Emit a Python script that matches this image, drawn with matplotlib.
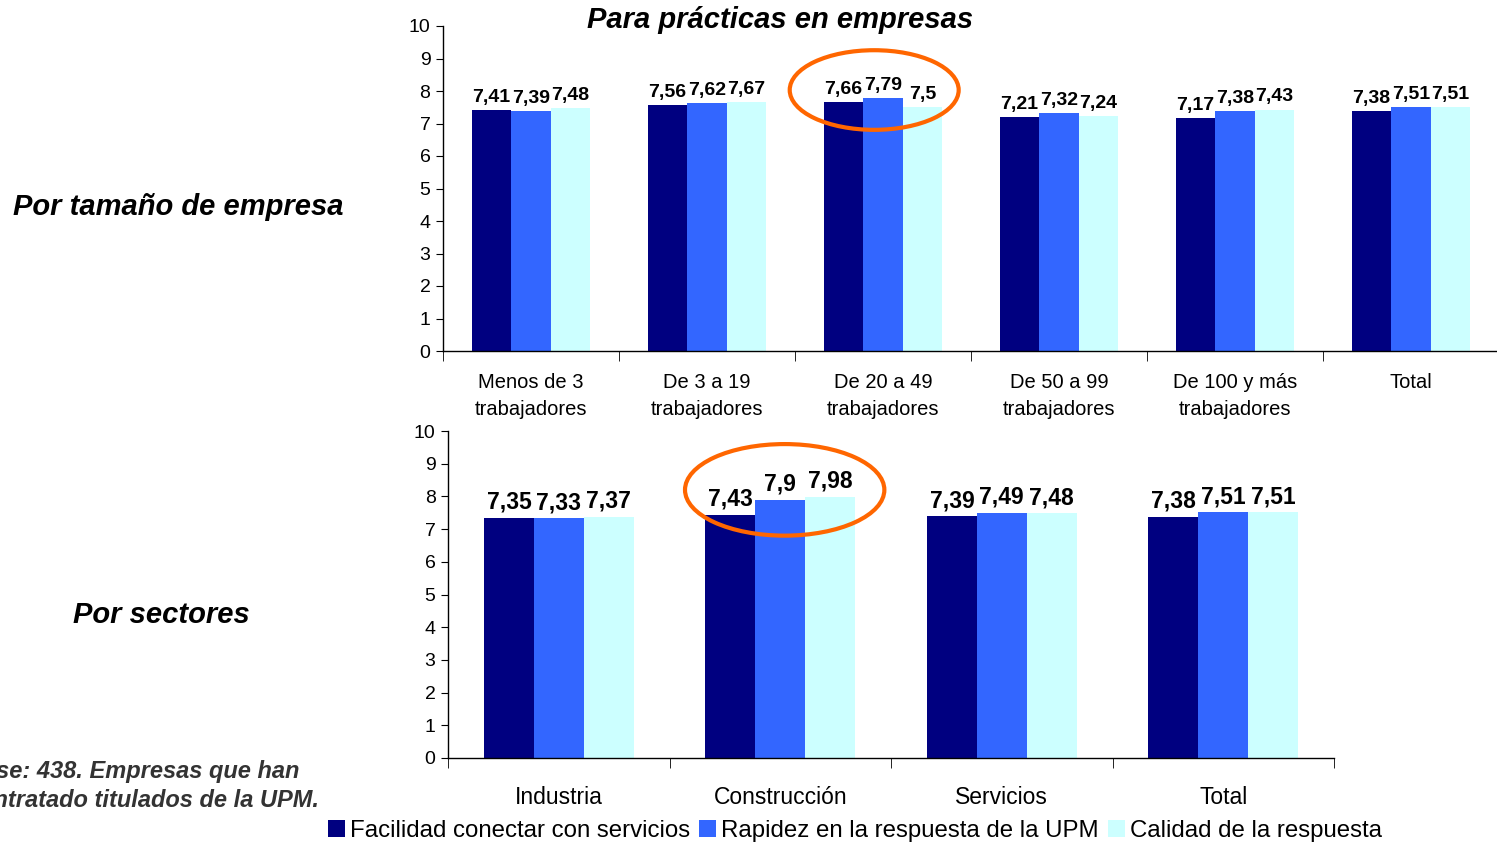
import numpy as np
import matplotlib
matplotlib.use("Agg")
import matplotlib.pyplot as plt
from matplotlib.patches import Ellipse, Patch

plt.rcParams['font.family'] = ['Liberation Sans', 'DejaVu Sans']

# datos
series = ["Facilidad conectar con servicios", "Rapidez en la respuesta de la UPM", "Calidad de la respuesta"]
colores = ["#000080", "#3366FF", "#CCFFFF"]

tam_cats = ["Menos de 3\ntrabajadores", "De 3 a 19\ntrabajadores", "De 20 a 49\ntrabajadores",
            "De 50 a 99\ntrabajadores", "De 100 y más\ntrabajadores", "Total"]
tam_facilidad = [7.41, 7.56, 7.66, 7.21, 7.17, 7.38]
tam_rapidez = [7.39, 7.62, 7.79, 7.32, 7.38, 7.51]
tam_calidad = [7.48, 7.67, 7.5, 7.24, 7.43, 7.51]

sec_cats = ["Industria", "Construcción", "Servicios", "Total"]
sec_facilidad = [7.35, 7.43, 7.39, 7.38]
sec_rapidez = [7.33, 7.9, 7.49, 7.51]
sec_calidad = [7.37, 7.98, 7.48, 7.51]


def fmt(v):
    return f"{v:g}".replace(".", ",")


def barras(ax, cats, valores, pad, fs_x, fs_val):
    n = len(cats)
    x = np.arange(n)
    w = 0.225
    for i, vals in enumerate(valores):
        pos = x + (i - 1) * w
        ax.bar(pos, vals, width=w, color=colores[i], edgecolor="none")
        for p, v in zip(pos, vals):
            ax.annotate(fmt(v), (p, v), xytext=(0, 3), textcoords="offset points",
                        ha="center", va="bottom", fontsize=fs_val, fontweight="bold")
    ax.set_xlim(-0.5, n - 0.5)
    ax.set_ylim(0, 10)
    ax.set_yticks(range(0, 11))
    ax.set_xticks(x)
    ax.set_xticklabels(cats, fontsize=fs_x, linespacing=1.55)
    ax.set_xticks(np.arange(n + 1) - 0.5, minor=True)
    ax.tick_params(axis="x", which="major", length=0, pad=pad)
    ax.tick_params(axis="x", which="minor", length=7, direction="out")
    ax.tick_params(axis="y", labelsize=14, length=5, direction="out", pad=4)
    for s in ["top", "right"]:
        ax.spines[s].set_visible(False)
    for s in ["left", "bottom"]:
        ax.spines[s].set_linewidth(1)


fig = plt.figure(figsize=(14.97, 8.43), dpi=100)

ax1 = fig.add_axes([443 / 1497, 1 - 351 / 843, 1056 / 1497, 325 / 843])
barras(ax1, tam_cats, [tam_facilidad, tam_rapidez, tam_calidad], 16, 14.5, 14)
ax1.add_patch(Ellipse((1.95, 8.03), 0.96, 2.45, fill=False, edgecolor="#FF6600",
                      linewidth=3, clip_on=False))

ax2 = fig.add_axes([448 / 1497, 1 - 758 / 843, 886 / 1497, 327 / 843])
barras(ax2, sec_cats, [sec_facilidad, sec_rapidez, sec_calidad], 20, 16.5, 16.5)
ax2.add_patch(Ellipse((1.02, 8.2), 0.9, 2.8, fill=False, edgecolor="#FF6600",
                      linewidth=3, clip_on=False))

fig.text(780 / 1497, 1 - 20 / 843, "Para prácticas en empresas", ha="center", va="center",
         fontsize=21, fontweight="bold", style="italic")
fig.text(178 / 1497, 1 - 207 / 843, "Por tamaño de empresa", ha="center", va="center",
         fontsize=21, fontweight="bold", style="italic")
fig.text(161 / 1497, 1 - 615 / 843, "Por sectores", ha="center", va="center",
         fontsize=21, fontweight="bold", style="italic")
fig.text(-34 / 1497, 1 - 786 / 843, "Base: 438. Empresas que han\ncontratado titulados de la UPM.",
         ha="left", va="center", fontsize=17, fontweight="bold", style="italic",
         color="#333333", linespacing=1.35)

handles = [Patch(facecolor=c, edgecolor="none") for c in colores]
fig.legend(handles, series, loc="center", bbox_to_anchor=(855 / 1497, 1 - 831 / 843), ncol=3,
           frameon=False, fontsize=17.3, handlelength=0.7, handleheight=0.7, handletextpad=0.2,
           columnspacing=0.4, borderpad=0)

fig.savefig("out.png", dpi=100)
